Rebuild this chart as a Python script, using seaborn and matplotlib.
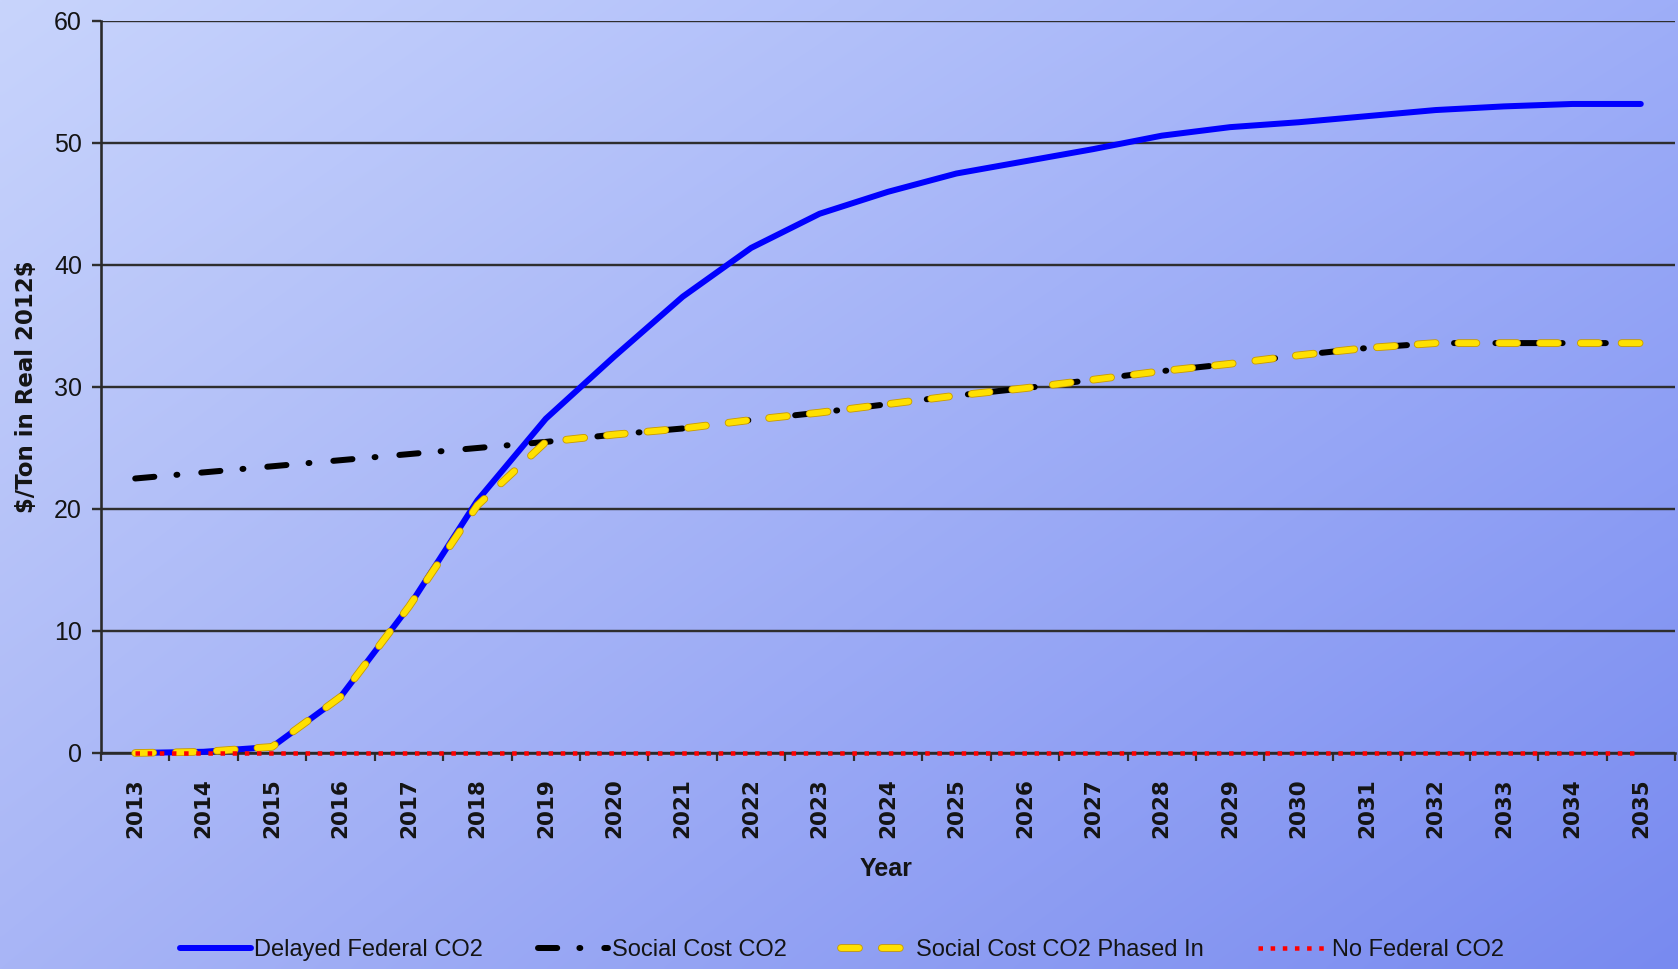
import numpy as np
import pandas as pd
import matplotlib
matplotlib.use("Agg")
import matplotlib.pyplot as plt
import matplotlib.patheffects as pe
import seaborn as sns

# ---- data ($/ton, real 2012 dollars) ----
years = list(range(2013, 2036))
delayed_federal = [0.0, 0.1, 0.5, 4.6, 12.0, 20.7, 27.4, 32.5, 37.4, 41.4, 44.2, 46.0,
                   47.5, 48.5, 49.5, 50.6, 51.3, 51.7, 52.2, 52.7, 53.0, 53.2, 53.2]
social_cost = [22.5, 23.0, 23.5, 24.0, 24.5, 25.0, 25.5, 26.1, 26.6, 27.3, 27.9, 28.6,
               29.3, 29.9, 30.6, 31.3, 31.9, 32.6, 33.2, 33.6, 33.6, 33.6, 33.6]
social_cost_phased = [0.0, 0.1, 0.5, 4.6, 12.0, 20.3, 25.5, 26.1, 26.6, 27.3, 27.9, 28.6,
                      29.3, 29.9, 30.6, 31.3, 31.9, 32.6, 33.2, 33.6, 33.6, 33.6, 33.6]
no_federal = [0.0] * len(years)

series_names = ["Delayed Federal CO2", "Social Cost CO2",
                "Social Cost CO2 Phased In", "No Federal CO2"]
y_ticks = [0, 10, 20, 30, 40, 50, 60]

df = pd.DataFrame({
    "Year": years * 4,
    "Value": delayed_federal + social_cost + social_cost_phased + no_federal,
    "Series": sum([[n] * len(years) for n in series_names], []),
})

sns.set_theme(style="white")
plt.rcParams["font.family"] = ["Liberation Sans", "DejaVu Sans"]
plt.rcParams["text.color"] = "#141414"

W, H, DPI = 1678, 969, 100
fig = plt.figure(figsize=(W / DPI, H / DPI), dpi=DPI)

# diagonal blue gradient background
bg = fig.add_axes([0, 0, 1, 1], zorder=-10)
bg.set_axis_off()
tl = np.array([200, 212, 252]) / 255
tr = np.array([158, 174, 248]) / 255
bl = np.array([168, 181, 246]) / 255
br = np.array([120, 138, 240]) / 255
gx = np.linspace(0, 1, 400)[None, :, None]
gy = np.linspace(0, 1, 240)[:, None, None]
grad = (1 - gy) * ((1 - gx) * tl + gx * tr) + gy * ((1 - gx) * bl + gx * br)
bg.imshow(grad, aspect="auto", extent=[0, 1, 0, 1], interpolation="bilinear")
bg.set_xlim(0, 1)
bg.set_ylim(0, 1)

ax = fig.add_axes([101 / W, 1 - 753 / H, (1675 - 101) / W, (753 - 21) / H])
ax.set_facecolor("none")

px = 72 / DPI  # points per pixel

styles = {
    "Delayed Federal CO2": dict(color="#0000ff", lw=6 * px, ls="-", cap="round"),
    "Social Cost CO2": dict(color="#000000", lw=6 * px, ls=(0, (3.2, 3.7, 0.15, 4.0)), cap="round"),
    "Social Cost CO2 Phased In": dict(color="#ffe000", lw=6 * px, ls=(0, (3.0, 3.8)), cap="round"),
    "No Federal CO2": dict(color="#ff0000", lw=4.5 * px, ls=(0, (1.0, 1.7)), cap="butt"),
}

handles = []
for i, name in enumerate(series_names):
    st = styles[name]
    sub = df[df["Series"] == name]
    n_before = len(ax.lines)
    sns.lineplot(data=sub, x="Year", y="Value", ax=ax, color=st["color"],
                 linewidth=st["lw"], label=name, legend=False, zorder=3 + i)
    line = ax.lines[n_before]
    line.set_linestyle(st["ls"])
    line.set_dash_capstyle(st["cap"])
    line.set_solid_capstyle(st["cap"])
    line.set_clip_on(False)
    if name == "Social Cost CO2 Phased In":
        line.set_path_effects([pe.Stroke(linewidth=st["lw"] + 1.2, foreground="#c89a00"),
                               pe.Normal()])
    handles.append(line)

# axes, grid and ticks
ax.set_xlim(2012.5, 2035.5)
ax.set_ylim(0, 60)
ax.set_yticks(y_ticks)
ax.set_xticks(years)
ax.set_xticks(np.arange(2012.5, 2036, 1.0), minor=True)
ax.grid(axis="y", color="#2e2e2e", lw=2.4 * px, zorder=1)
ax.grid(axis="x", visible=False)
for side in ["top", "right"]:
    ax.spines[side].set_visible(False)
for side in ["left", "bottom"]:
    ax.spines[side].set_color("#2a2a2a")
    ax.spines[side].set_linewidth(2.6 * px)
    ax.spines[side].set_zorder(2)

ax.tick_params(axis="y", which="major", left=True, length=9 * px, width=2.4 * px,
               color="#2e2e2e", pad=10 * px, labelsize=18, labelcolor="#141414")
ax.tick_params(axis="x", which="major", bottom=True, length=0, pad=25 * px,
               labelsize=15.5, labelcolor="#141414")
ax.tick_params(axis="x", which="minor", bottom=True, length=8 * px, width=2.2 * px,
               color="#2e2e2e")
for lab in ax.get_xticklabels():
    lab.set_rotation(90)
    lab.set_family(["DejaVu Sans"])
    lab.set_fontweight("bold")
    lab.set_va("top")
    lab.set_ha("center")

ax.set_xlabel("")
ax.set_ylabel("")
fig.text(886 / W, 1 - 869 / H, "Year", ha="center", va="center",
         fontsize=18, fontweight="bold")
fig.text(27 / W, 1 - ((21 + 753) / 2) / H, r"\$/Ton in Real 2012\$", rotation=90,
         ha="center", va="center", fontsize=16.5, fontweight="bold",
         family=["DejaVu Sans"])

fig.legend(handles=handles, labels=series_names, loc="center",
           bbox_to_anchor=(842 / W, 1 - 950 / H), ncol=4, frameon=False,
           fontsize=17, handlelength=3.0, handletextpad=0.15, columnspacing=2.3)

fig.savefig("out.png", dpi=DPI)
